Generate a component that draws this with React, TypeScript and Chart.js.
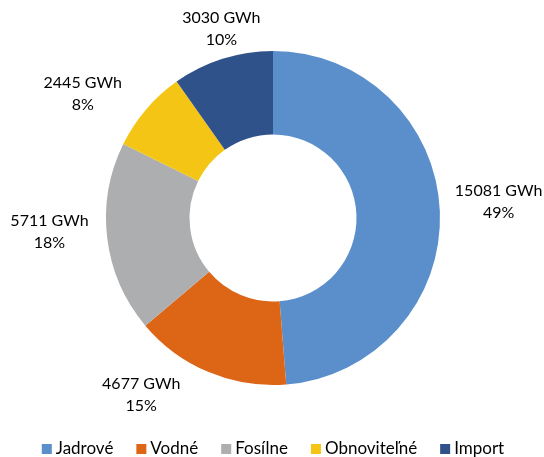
import { useEffect, useRef } from "react";
import { Chart, registerables } from "chart.js";

Chart.register(...registerables);

// Electricity sources (GWh)
const categories = ["Jadrové", "Vodné", "Fosílne", "Obnoviteľné", "Import"];
const energyGWh = [15081, 4677, 5711, 2445, 3030];
const sliceColors = ["#5B8FCB", "#DD6516", "#ADAEB0", "#F5C516", "#30528A"];

const FONT = "Lato, 'Open Sans', sans-serif";

// Hand-tuned label nudges (px) applied after the outside-end placement
const labelNudges: [number, number][] = [
  [1, -8],
  [-47, -10],
  [-5, -11],
  [-23, 8],
  [15, 4],
];

const outsideLabels = {
  id: "outsideLabels",
  afterDatasetsDraw(chart: Chart) {
    const { ctx } = chart;
    const meta = chart.getDatasetMeta(0);
    const data = chart.data.datasets[0].data as number[];
    const total = data.reduce((a, b) => a + b, 0);
    ctx.save();
    ctx.font = `16px ${FONT}`;
    ctx.fillStyle = "#000";
    ctx.textAlign = "center";
    ctx.textBaseline = "middle";
    const lineH = 22;
    meta.data.forEach((el: any, i: number) => {
      const { x, y, startAngle, endAngle, outerRadius } = el.getProps(
        ["x", "y", "startAngle", "endAngle", "outerRadius"],
        true
      );
      const mid = (startAngle + endAngle) / 2;
      const dx = Math.cos(mid);
      const dy = Math.sin(mid);
      const line1 = `${data[i]} GWh`;
      const line2 = `${Math.round((data[i] / total) * 100)}%`;
      const w = Math.max(ctx.measureText(line1).width, ctx.measureText(line2).width);
      const h = lineH * 2;
      const r = outerRadius + 14;
      const n = labelNudges[i] || [0, 0];
      const cx = x + dx * r + dx * (w / 2) + n[0];
      const cy = y + dy * r + dy * (h / 2) + n[1];
      ctx.fillText(line1, cx, cy - lineH / 2);
      ctx.fillText(line2, cx, cy + lineH / 2);
    });
    ctx.restore();
  },
};

const bottomLegend = {
  id: "bottomLegend",
  afterDraw(chart: Chart) {
    const { ctx } = chart;
    const labels = chart.data.labels as string[];
    const colors = chart.data.datasets[0].backgroundColor as string[];
    ctx.save();
    ctx.font = `17px ${FONT}`;
    ctx.textBaseline = "middle";
    ctx.textAlign = "left";
    const box = 10;
    const boxGap = 4;
    const itemGap = 23;
    const widths = labels.map((l) => box + boxGap + ctx.measureText(l).width);
    const totalW = widths.reduce((a, b) => a + b, 0) + itemGap * (labels.length - 1);
    let xPos = (chart.width - totalW) / 2 + 1;
    const yMid = 449;
    labels.forEach((l, i) => {
      ctx.fillStyle = colors[i];
      ctx.fillRect(xPos, yMid - box / 2, box, box);
      ctx.fillStyle = "#000";
      ctx.fillText(l, xPos + box + boxGap, yMid);
      xPos += widths[i] + itemGap;
    });
    ctx.restore();
  },
};

export default function App() {
  const canvasRef = useRef<HTMLCanvasElement | null>(null);

  useEffect(() => {
    if (!canvasRef.current) return;
    const chart = new Chart(canvasRef.current, {
      type: "doughnut",
      data: {
        labels: categories,
        datasets: [
          {
            data: energyGWh,
            backgroundColor: sliceColors,
            borderWidth: 0,
          },
        ],
      },
      options: {
        responsive: false,
        animation: false,
        cutout: "50%",
        layout: { padding: { left: 106, right: 104, top: 51, bottom: 72 } },
        plugins: {
          legend: { display: false },
          tooltip: { enabled: false },
        },
      },
      plugins: [outsideLabels, bottomLegend],
    });
    return () => chart.destroy();
  }, []);

  return (
    <div style={{ position: "fixed", left: 0, top: 0, width: 544, height: 457, background: "#fff" }}>
      <canvas ref={canvasRef} width={544} height={457} />
    </div>
  );
}
